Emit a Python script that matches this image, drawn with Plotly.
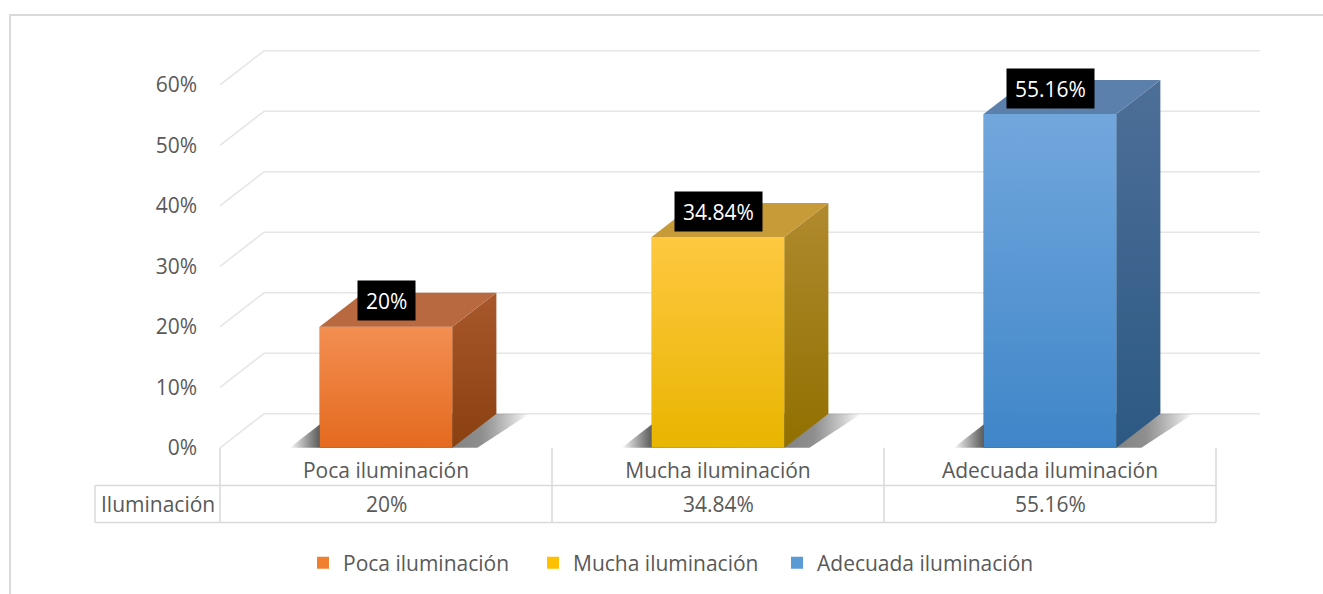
import plotly.graph_objects as go

# ---------------- data ----------------
categories = ["Poca iluminación", "Mucha iluminación", "Adecuada iluminación"]
values = [20, 34.84, 55.16]
value_labels = ["20%", "34.84%", "55.16%"]
row_header = "Iluminación"
y_tick_vals = [0, 10, 20, 30, 40, 50, 60]
y_tick_text = ["0%", "10%", "20%", "30%", "40%", "50%", "60%"]

# ---------------- styles ----------------
W, H = 1323, 594
FONT = "Open Sans"
FS = 21
GRAY = "#595959"
LINE = "#D9D9D9"
GRID = "#E6E6E6"

front_top = ["#F38E52", "#FFC841", "#72A7DD"]
front_bot = ["#E46A1E", "#E8B500", "#3F86C8"]
side_top = ["#A8582C", "#B08A2E", "#4D6F98"]
side_bot = ["#8A4010", "#917000", "#2C5983"]
top_face = ["#B8693F", "#C69B38", "#5A80AB"]
legend_col = ["#F07F2F", "#FFC000", "#5B9BD5"]
legend_left_px = [303, 533, 777]

# pixel geometry of the front plane
PX_X = 332.0      # px per category unit
X0_PX = 220.0     # pixel where x = -0.5
PX_Y = 6.05       # px per percent unit
Y0_PX = 447.8     # pixel where y = 0
DOM_X_PX = 200.0
DOM_Y_PX = 449.6

DX = 44.0 / PX_X          # depth offset (x units)
DY = 34.0 / PX_Y          # depth offset (y units)
BW = 0.4                  # bar width

x_lo = -0.5 - (X0_PX - DOM_X_PX) / PX_X
x_hi = -0.5 + (W - X0_PX) / PX_X
y_lo = -(DOM_Y_PX - Y0_PX) / PX_Y
y_hi = Y0_PX / PX_Y


def py(p):
    return 1 - p / H


def px(p):
    return p / W


legend_names = ["legend", "legend2", "legend3"]

fig = go.Figure()

# front faces as real bars (legend entries)
for i, (c, v) in enumerate(zip(categories, values)):
    fig.add_trace(go.Bar(x=[i], y=[v], width=BW, name=c, legend=legend_names[i],
                         marker=dict(color=legend_col[i], line=dict(width=0)),
                         hoverinfo="name+y"))

# 3D decoration derived from the data
for i, v in enumerate(values):
    xl, xr = i - BW / 2, i + BW / 2
    s = 30.0 / PX_X
    # soft floor shadow
    sx = [xl - s, xr + 25.0 / PX_X, xr + DX + 33.0 / PX_X, xl + DX - s, xl - s]
    sy = [0, 0, DY, DY, 0]
    fig.add_trace(go.Scatter(
        x=sx, y=sy, mode="lines", fill="toself", line=dict(width=0),
        fillgradient=dict(type="horizontal", start=xl - s, stop=xr + DX + 33.0 / PX_X,
                          colorscale=[[0, "rgba(0,0,0,0)"], [0.14, "rgba(30,30,30,0.8)"],
                                      [0.8, "rgba(50,50,50,0.55)"], [1, "rgba(0,0,0,0)"]]),
        showlegend=False, hoverinfo="skip"))
    # front face (gradient)
    fig.add_trace(go.Scatter(
        x=[xl, xr, xr, xl, xl], y=[0, 0, v, v, 0], mode="lines", fill="toself",
        line=dict(width=0),
        fillgradient=dict(type="vertical", start=0, stop=v,
                          colorscale=[[0, front_bot[i]], [1, front_top[i]]]),
        showlegend=False, hoverinfo="skip"))
    # side face
    fig.add_trace(go.Scatter(
        x=[xr, xr + DX, xr + DX, xr, xr], y=[0, DY, v + DY, v, 0], mode="lines",
        fill="toself", line=dict(width=0),
        fillgradient=dict(type="vertical", start=0, stop=v + DY,
                          colorscale=[[0, side_bot[i]], [1, side_top[i]]]),
        showlegend=False, hoverinfo="skip"))
    # top face
    fig.add_trace(go.Scatter(
        x=[xl, xl + DX, xr + DX, xr, xl], y=[v, v + DY, v + DY, v, v], mode="lines",
        fill="toself", fillcolor=top_face[i], line=dict(width=0),
        showlegend=False, hoverinfo="skip"))

shapes = []
# back-wall gridlines (with side-wall diagonal)
for t in y_tick_vals:
    shapes.append(dict(type="path", xref="x", yref="y", layer="below",
                       path=f"M{-0.5},{t} L{-0.5 + DX},{t + DY} L{2.5 + DX},{t + DY}",
                       line=dict(color=GRID, width=1.6)))

# data table lines
T_TOP, T_MID, T_BOT = Y0_PX, 485.5, 522.5
HDR_L = 95.0
for b in [-0.5, 0.5, 1.5, 2.5]:
    shapes.append(dict(type="line", xref="x", yref="paper", x0=b, x1=b,
                       y0=py(T_TOP), y1=py(T_BOT), line=dict(color=LINE, width=1.5)))
for yy in [T_MID, T_BOT]:
    shapes.append(dict(type="line", xref="paper", yref="paper", x0=px(HDR_L), x1=px(X0_PX + 3 * PX_X),
                       y0=py(yy), y1=py(yy), line=dict(color=LINE, width=1.5)))
shapes.append(dict(type="line", xref="paper", yref="paper", x0=px(HDR_L), x1=px(HDR_L),
                   y0=py(T_MID), y1=py(T_BOT), line=dict(color=LINE, width=1.5)))
# outer chart frame
shapes.append(dict(type="rect", xref="paper", yref="paper", x0=px(10), x1=px(W + 20),
                   y0=py(H + 20), y1=py(15), line=dict(color=LINE, width=2)))

annotations = []
# data labels (black boxes)
for i, (v, lab) in enumerate(zip(values, value_labels)):
    annotations.append(dict(x=i, y=v, xref="x", yref="y", yshift=26, showarrow=False,
                            text=lab, bgcolor="#000000", borderpad=8, height=23,
                            xanchor="center", yanchor="middle",
                            font=dict(family=FONT, size=FS, color="#FFFFFF")))
# table value row
for i, lab in enumerate(value_labels):
    annotations.append(dict(x=i, y=py((T_MID + T_BOT) / 2), xref="x", yref="paper",
                            showarrow=False, text=lab, xanchor="center", yanchor="middle",
                            font=dict(family=FONT, size=FS, color=GRAY)))
annotations.append(dict(x=px((HDR_L + X0_PX) / 2), y=py((T_MID + T_BOT) / 2), xref="paper",
                        yref="paper", showarrow=False, text=row_header,
                        xanchor="center", yanchor="middle",
                        font=dict(family=FONT, size=FS, color=GRAY)))

legend_style = dict(orientation="h", y=py(563), yanchor="middle", xanchor="left",
                    font=dict(family=FONT, size=FS, color=GRAY), bgcolor="rgba(0,0,0,0)",
                    itemclick=False, itemdoubleclick=False)

fig.update_layout(
    width=W, height=H,
    margin=dict(l=0, r=0, t=0, b=0),
    paper_bgcolor="#FFFFFF", plot_bgcolor="rgba(0,0,0,0)",
    barmode="overlay",
    shapes=shapes, annotations=annotations,
    font=dict(family=FONT, size=FS, color=GRAY),
    xaxis=dict(domain=[DOM_X_PX / W, 1], range=[x_lo, x_hi], tickvals=[0, 1, 2],
               ticktext=categories, showgrid=False, zeroline=False, showline=False,
               ticks="", ticklabelstandoff=6, automargin=False,
               tickfont=dict(family=FONT, size=FS, color=GRAY)),
    yaxis=dict(domain=[(H - DOM_Y_PX) / H, 1], range=[y_lo, y_hi], tickvals=y_tick_vals,
               ticktext=y_tick_text, showgrid=False, zeroline=False, showline=False,
               ticks="", ticklabelstandoff=2, automargin=False,
               tickfont=dict(family=FONT, size=FS, color=GRAY)),
    legend=dict(x=px(legend_left_px[0]), **legend_style),
    legend2=dict(x=px(legend_left_px[1]), **legend_style),
    legend3=dict(x=px(legend_left_px[2]), **legend_style),
    showlegend=True,
)

fig.write_html("out.html", config={"displayModeBar": False},
               post_script="document.body.style.margin='0px';")
